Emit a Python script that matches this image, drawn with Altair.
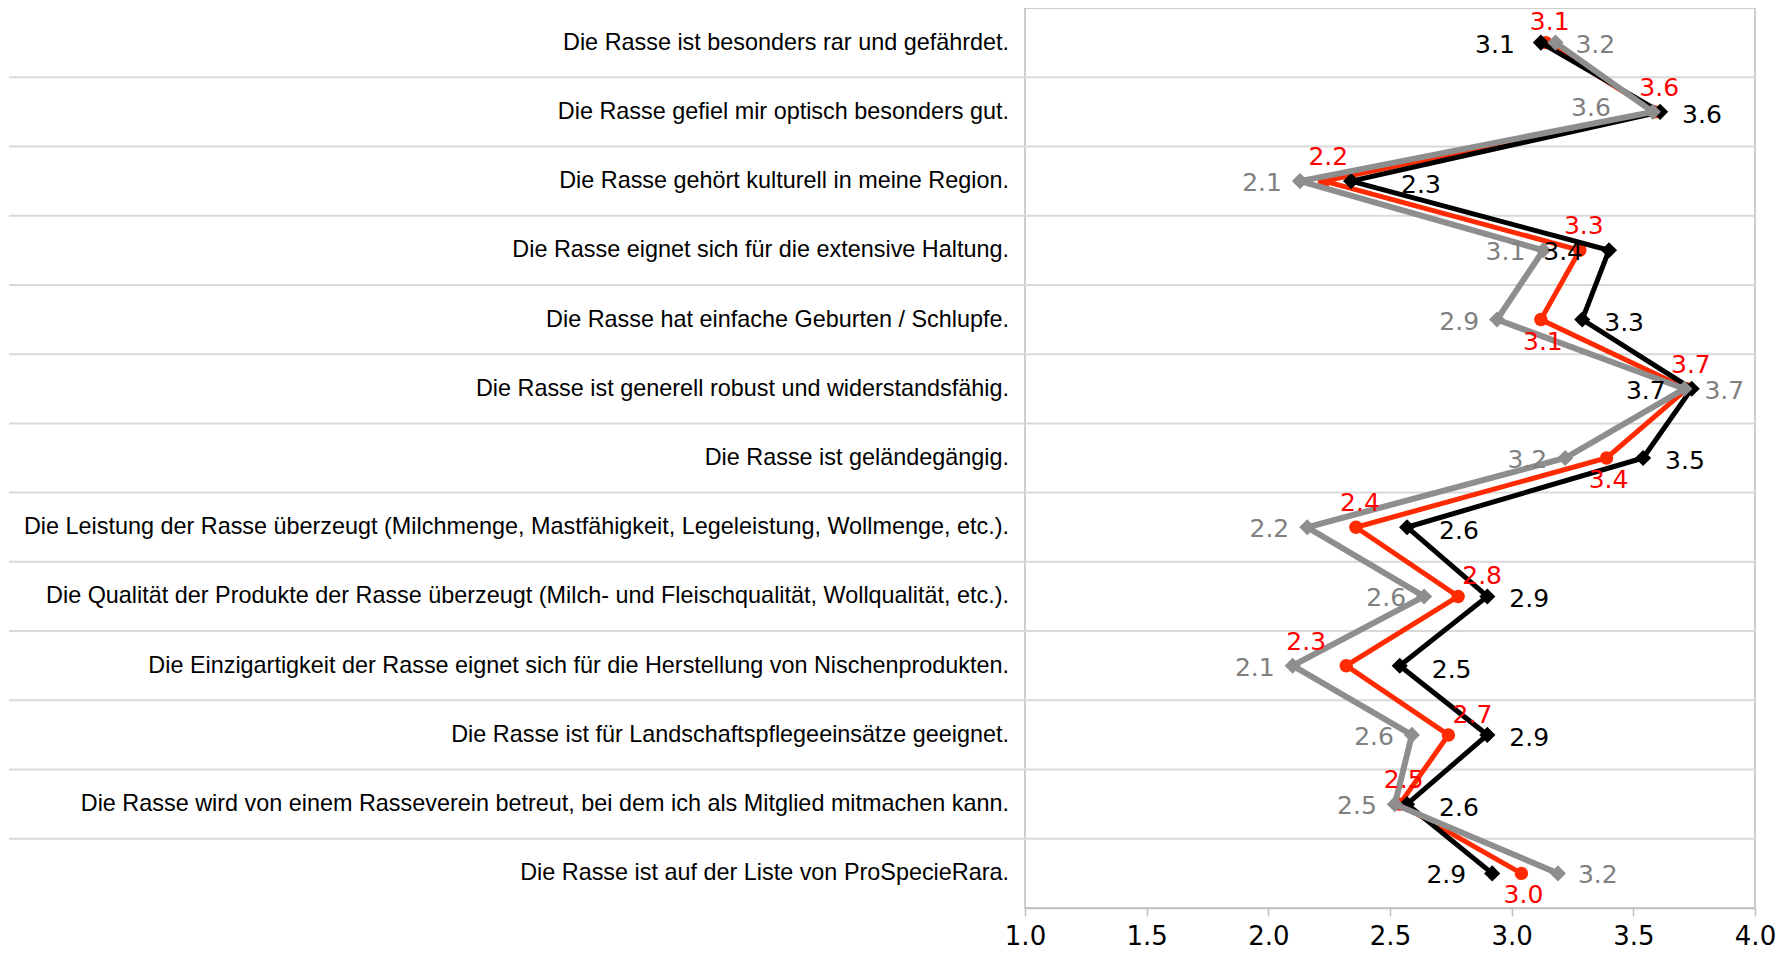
import altair as alt
import pandas as pd

categories = [
    "Die Rasse ist besonders rar und gefährdet.",
    "Die Rasse gefiel mir optisch besonders gut.",
    "Die Rasse gehört kulturell in meine Region.",
    "Die Rasse eignet sich für die extensive Haltung.",
    "Die Rasse hat einfache Geburten / Schlupfe.",
    "Die Rasse ist generell robust und widerstandsfähig.",
    "Die Rasse ist geländegängig.",
    "Die Leistung der Rasse überzeugt (Milchmenge, Mastfähigkeit, Legeleistung, Wollmenge, etc.).",
    "Die Qualität der Produkte der Rasse überzeugt (Milch- und Fleischqualität, Wollqualität, etc.).",
    "Die Einzigartigkeit der Rasse eignet sich für die Herstellung von Nischenprodukten.",
    "Die Rasse ist für Landschaftspflegeeinsätze geeignet.",
    "Die Rasse wird von einem Rasseverein betreut, bei dem ich als Mitglied mitmachen kann.",
    "Die Rasse ist auf der Liste von ProSpecieRara.",
]

series_names = ["Gruppe 1", "Gruppe 2", "Gruppe 3"]

values_black = [3.12, 3.61, 2.34, 3.40, 3.29, 3.74, 3.54, 2.57, 2.90, 2.54, 2.90, 2.57, 2.92]
values_red = [3.14, 3.59, 2.23, 3.28, 3.12, 3.72, 3.39, 2.36, 2.78, 2.32, 2.74, 2.54, 3.04]
values_gray = [3.18, 3.58, 2.13, 3.13, 2.94, 3.71, 3.22, 2.16, 2.64, 2.10, 2.59, 2.52, 3.19]

# where each value label sits relative to its marker
side_black = ["left", "right", "far_right", "left", "right", "left", "right",
              "right_wide", "right", "right_wide", "right", "right_wide", "left"]
side_red = ["above_near", "above", "above", "above", "below", "above", "below",
            "above", "above_right", "above_left", "above_right", "above", "below"]
side_gray = ["right", "far_left", "left", "left", "left", "right", "left",
             "left", "left", "left", "left", "left", "right"]

x_ticks = [1.0, 1.5, 2.0, 2.5, 3.0, 3.5, 4.0]

W, H = 730, 900
N = len(categories)

line_colors = {series_names[0]: "#000000", series_names[1]: "#FF2A00", series_names[2]: "#8E8E8E"}
line_widths = {series_names[0]: 5, series_names[1]: 5, series_names[2]: 6}
text_colors = {series_names[0]: "#000000", series_names[1]: "#FF0000", series_names[2]: "#808080"}
shapes = {series_names[0]: "diamond", series_names[1]: "circle", series_names[2]: "diamond"}
sizes = {series_names[0]: 260, series_names[1]: 180, series_names[2]: 260}

rows = []
for name, vals, sides in zip(series_names,
                             [values_black, values_red, values_gray],
                             [side_black, side_red, side_gray]):
    for i, (v, s) in enumerate(zip(vals, sides)):
        rows.append({"cat": categories[i], "pos": i + 0.5, "series": name,
                     "value": v, "side": s})
df = pd.DataFrame(rows)

cat_df = pd.DataFrame({"cat": categories, "pos": [i + 0.5 for i in range(N)]})
grid_df = pd.DataFrame({"b": list(range(1, N))})

VALUE_FONT = "DejaVu Sans"

yscale = alt.Scale(domain=[0, N], reverse=True, nice=False, zero=False)
Y = alt.Y("pos:Q", scale=yscale, axis=None)
X = alt.X(
    "value:Q",
    scale=alt.Scale(domain=[1, 4], nice=False, zero=False),
    axis=alt.Axis(
        values=x_ticks, format=".1f", title=None, grid=False,
        labelFont=VALUE_FONT, labelFontSize=26,
        labelColor="#000000", labelBaseline="alphabetic", labelPadding=28,
        labelFlush=False, labelOverlap=False,
        tickColor="#BFBFBF", tickSize=8, tickWidth=1.5,
        domainColor="#BFBFBF", domainWidth=1.5,
    ),
)

grid = alt.Chart(grid_df).mark_rule(color="#D9D9D9", strokeWidth=2).encode(
    y=alt.Y("b:Q", scale=yscale, axis=None),
    x=alt.value(-1016),
    x2=alt.value(W),
)

cat_labels = alt.Chart(cat_df).mark_text(
    align="right", baseline="middle", font="Liberation Sans", fontSize=23.4, color="#000000"
).encode(y=Y, x=alt.value(-16), text="cat:N")

layers = [grid, cat_labels]

# draw order: red, black, gray (gray on top)
for name in [series_names[1], series_names[0], series_names[2]]:
    base = alt.Chart(df).transform_filter(alt.datum.series == name)
    layers.append(
        base.mark_line(color=line_colors[name], strokeWidth=line_widths[name]).encode(
            x=X, y=Y, order="pos:Q"
        )
    )
    layers.append(
        base.mark_point(shape=shapes[name], filled=True, size=sizes[name],
                        color=line_colors[name], opacity=1).encode(x=X, y=Y)
    )

placements = {
    "left": dict(align="right", dx=-26, dy=2),
    "right": dict(align="left", dx=22, dy=3),
    "right_wide": dict(align="left", dx=32, dy=4),
    "far_right": dict(align="left", dx=50, dy=4),
    "far_left": dict(align="right", dx=-42, dy=-4),
    "above": dict(align="center", dx=4, dy=-24),
    "above_near": dict(align="center", dx=4, dy=-21),
    "above_right": dict(align="center", dx=24, dy=-20),
    "above_left": dict(align="center", dx=-40, dy=-24),
    "below": dict(align="center", dx=2, dy=22),
}
gray_override = {
    "left": dict(align="right", dx=-18, dy=2),
    "right": dict(align="left", dx=20, dy=2),
}

for name in series_names:
    for side, p in placements.items():
        if name == series_names[2] and side in gray_override:
            p = gray_override[side]
        layers.append(
            alt.Chart(df)
            .transform_filter((alt.datum.series == name) & (alt.datum.side == side))
            .mark_text(baseline="middle", font=VALUE_FONT,
                       fontSize=25, color=text_colors[name], **p)
            .encode(x=X, y=Y, text=alt.Text("value:Q", format=".1f"))
        )

chart = (
    alt.layer(*layers)
    .properties(
        width=W, height=H,
        padding={"left": 1017, "top": 0, "right": 22, "bottom": 44},
        autosize=alt.AutoSizeParams(type="none"),
    )
    .configure_view(stroke="#BFBFBF", strokeWidth=1.5)
)

chart.save("out.html", embed_options={"renderer": "svg", "actions": False})
